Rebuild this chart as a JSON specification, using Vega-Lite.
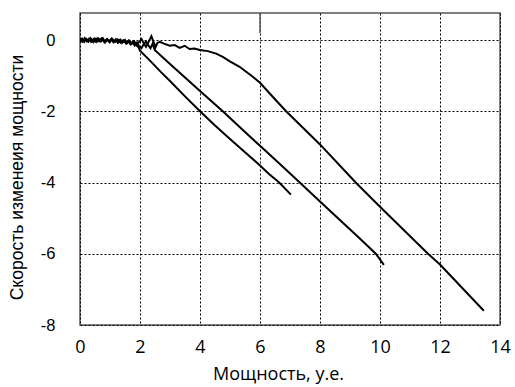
{
  "$schema": "https://vega.github.io/schema/vega-lite/v6.json",
  "width": 420,
  "height": 312,
  "autosize": {"type": "none"},
  "padding": {"left": 80, "top": 13, "right": 15, "bottom": 62},
  "background": "white",
  "config": {
    "view": {"stroke": "#555555", "strokeWidth": 1.5},
    "font": "Open Sans",
    "axis": {
      "labelColor": "black",
      "titleColor": "black",
      "titleFontWeight": "normal",
      "grid": true,
      "gridColor": "black",
      "gridDash": [2, 2],
      "gridWidth": 1,
      "gridOpacity": 1,
      "domain": false,
      "ticks": false
    }
  },
  "datasets": {
    "curves": [
      {"s": "A", "i": 1, "x": 0, "y": 0.03}, {"s": "A", "i": 2, "x": 0.08, "y": -0.04}, {"s": "A", "i": 3, "x": 0.15, "y": 0.05}, {"s": "A", "i": 4, "x": 0.22, "y": -0.03}, {"s": "A", "i": 5, "x": 0.3, "y": 0.04}, {"s": "A", "i": 6, "x": 0.37, "y": -0.05}, {"s": "A", "i": 7, "x": 0.45, "y": 0.03}, {"s": "A", "i": 8, "x": 0.52, "y": -0.04}, {"s": "A", "i": 9, "x": 0.6, "y": 0.05}, {"s": "A", "i": 10, "x": 0.67, "y": -0.03}, {"s": "A", "i": 11, "x": 0.75, "y": 0.04}, {"s": "A", "i": 12, "x": 0.82, "y": -0.06}, {"s": "A", "i": 13, "x": 0.9, "y": 0.03}, {"s": "A", "i": 14, "x": 0.97, "y": -0.04}, {"s": "A", "i": 15, "x": 1.05, "y": 0.04}, {"s": "A", "i": 16, "x": 1.12, "y": -0.05}, {"s": "A", "i": 17, "x": 1.2, "y": 0.02}, {"s": "A", "i": 18, "x": 1.27, "y": -0.07}, {"s": "A", "i": 19, "x": 1.35, "y": 0.01}, {"s": "A", "i": 20, "x": 1.42, "y": -0.06}, {"s": "A", "i": 21, "x": 1.5, "y": 0.0}, {"s": "A", "i": 22, "x": 1.57, "y": -0.09}, {"s": "A", "i": 23, "x": 1.65, "y": -0.02}, {"s": "A", "i": 24, "x": 1.72, "y": -0.11}, {"s": "A", "i": 25, "x": 1.8, "y": -0.04}, {"s": "A", "i": 26, "x": 1.87, "y": -0.14}, {"s": "A", "i": 27, "x": 1.95, "y": -0.2}, {"s": "A", "i": 28, "x": 2.0, "y": -0.3}, {"s": "A", "i": 29, "x": 2.3, "y": -0.55}, {"s": "A", "i": 30, "x": 2.7, "y": -0.9}, {"s": "A", "i": 31, "x": 3.0, "y": -1.15}, {"s": "A", "i": 32, "x": 3.5, "y": -1.58}, {"s": "A", "i": 33, "x": 4.0, "y": -2.0}, {"s": "A", "i": 34, "x": 4.5, "y": -2.4}, {"s": "A", "i": 35, "x": 5.0, "y": -2.78}, {"s": "A", "i": 36, "x": 5.5, "y": -3.15}, {"s": "A", "i": 37, "x": 6.0, "y": -3.52}, {"s": "A", "i": 38, "x": 6.3, "y": -3.76}, {"s": "A", "i": 39, "x": 6.64, "y": -4.0}, {"s": "A", "i": 40, "x": 7.03, "y": -4.34},
      {"s": "B", "i": 1, "x": 0, "y": -0.03}, {"s": "B", "i": 2, "x": 0.07, "y": 0.04}, {"s": "B", "i": 3, "x": 0.14, "y": -0.05}, {"s": "B", "i": 4, "x": 0.21, "y": 0.03}, {"s": "B", "i": 5, "x": 0.28, "y": -0.04}, {"s": "B", "i": 6, "x": 0.35, "y": 0.05}, {"s": "B", "i": 7, "x": 0.42, "y": -0.03}, {"s": "B", "i": 8, "x": 0.49, "y": 0.04}, {"s": "B", "i": 9, "x": 0.56, "y": -0.05}, {"s": "B", "i": 10, "x": 0.63, "y": 0.03}, {"s": "B", "i": 11, "x": 0.7, "y": -0.04}, {"s": "B", "i": 12, "x": 0.77, "y": 0.04}, {"s": "B", "i": 13, "x": 0.84, "y": -0.06}, {"s": "B", "i": 14, "x": 0.91, "y": 0.02}, {"s": "B", "i": 15, "x": 0.98, "y": -0.05}, {"s": "B", "i": 16, "x": 1.05, "y": 0.03}, {"s": "B", "i": 17, "x": 1.12, "y": -0.06}, {"s": "B", "i": 18, "x": 1.19, "y": 0.01}, {"s": "B", "i": 19, "x": 1.26, "y": -0.07}, {"s": "B", "i": 20, "x": 1.33, "y": 0.0}, {"s": "B", "i": 21, "x": 1.4, "y": -0.08}, {"s": "B", "i": 22, "x": 1.47, "y": -0.01}, {"s": "B", "i": 23, "x": 1.54, "y": -0.1}, {"s": "B", "i": 24, "x": 1.61, "y": -0.03}, {"s": "B", "i": 25, "x": 1.68, "y": -0.12}, {"s": "B", "i": 26, "x": 1.75, "y": -0.05}, {"s": "B", "i": 27, "x": 1.82, "y": -0.15}, {"s": "B", "i": 28, "x": 1.9, "y": -0.07}, {"s": "B", "i": 29, "x": 1.97, "y": -0.17}, {"s": "B", "i": 30, "x": 2.05, "y": -0.23}, {"s": "B", "i": 31, "x": 2.12, "y": -0.12}, {"s": "B", "i": 32, "x": 2.2, "y": -0.04}, {"s": "B", "i": 33, "x": 2.28, "y": -0.15}, {"s": "B", "i": 34, "x": 2.35, "y": -0.23}, {"s": "B", "i": 35, "x": 2.42, "y": -0.1}, {"s": "B", "i": 36, "x": 2.49, "y": -0.28}, {"s": "B", "i": 37, "x": 3.0, "y": -0.67}, {"s": "B", "i": 38, "x": 3.5, "y": -1.05}, {"s": "B", "i": 39, "x": 4.0, "y": -1.43}, {"s": "B", "i": 40, "x": 4.76, "y": -2.0}, {"s": "B", "i": 41, "x": 5.5, "y": -2.58}, {"s": "B", "i": 42, "x": 6.0, "y": -2.97}, {"s": "B", "i": 43, "x": 6.6, "y": -3.43}, {"s": "B", "i": 44, "x": 7.2, "y": -3.9}, {"s": "B", "i": 45, "x": 8.0, "y": -4.53}, {"s": "B", "i": 46, "x": 8.6, "y": -5.0}, {"s": "B", "i": 47, "x": 9.3, "y": -5.55}, {"s": "B", "i": 48, "x": 9.86, "y": -6.0}, {"s": "B", "i": 49, "x": 10.13, "y": -6.31},
      {"s": "C", "i": 1, "x": 0, "y": 0.0}, {"s": "C", "i": 2, "x": 0.09, "y": -0.05}, {"s": "C", "i": 3, "x": 0.18, "y": 0.04}, {"s": "C", "i": 4, "x": 0.27, "y": -0.04}, {"s": "C", "i": 5, "x": 0.36, "y": 0.03}, {"s": "C", "i": 6, "x": 0.45, "y": -0.06}, {"s": "C", "i": 7, "x": 0.54, "y": 0.04}, {"s": "C", "i": 8, "x": 0.63, "y": -0.03}, {"s": "C", "i": 9, "x": 0.72, "y": 0.05}, {"s": "C", "i": 10, "x": 0.81, "y": -0.05}, {"s": "C", "i": 11, "x": 0.9, "y": 0.02}, {"s": "C", "i": 12, "x": 0.99, "y": -0.06}, {"s": "C", "i": 13, "x": 1.08, "y": 0.03}, {"s": "C", "i": 14, "x": 1.17, "y": -0.05}, {"s": "C", "i": 15, "x": 1.26, "y": 0.02}, {"s": "C", "i": 16, "x": 1.35, "y": -0.07}, {"s": "C", "i": 17, "x": 1.44, "y": -0.01}, {"s": "C", "i": 18, "x": 1.53, "y": -0.08}, {"s": "C", "i": 19, "x": 1.62, "y": -0.01}, {"s": "C", "i": 20, "x": 1.71, "y": -0.1}, {"s": "C", "i": 21, "x": 1.8, "y": -0.03}, {"s": "C", "i": 22, "x": 1.89, "y": -0.12}, {"s": "C", "i": 23, "x": 1.98, "y": -0.05}, {"s": "C", "i": 24, "x": 2.05, "y": 0.03}, {"s": "C", "i": 25, "x": 2.12, "y": -0.08}, {"s": "C", "i": 26, "x": 2.2, "y": -0.19}, {"s": "C", "i": 27, "x": 2.28, "y": -0.06}, {"s": "C", "i": 28, "x": 2.38, "y": 0.11}, {"s": "C", "i": 29, "x": 2.45, "y": -0.05}, {"s": "C", "i": 30, "x": 2.52, "y": -0.2}, {"s": "C", "i": 31, "x": 2.58, "y": -0.08}, {"s": "C", "i": 32, "x": 2.66, "y": -0.05}, {"s": "C", "i": 33, "x": 2.8, "y": -0.1}, {"s": "C", "i": 34, "x": 2.99, "y": -0.16}, {"s": "C", "i": 35, "x": 3.16, "y": -0.14}, {"s": "C", "i": 36, "x": 3.32, "y": -0.22}, {"s": "C", "i": 37, "x": 3.49, "y": -0.16}, {"s": "C", "i": 38, "x": 3.65, "y": -0.25}, {"s": "C", "i": 39, "x": 3.82, "y": -0.24}, {"s": "C", "i": 40, "x": 3.99, "y": -0.28}, {"s": "C", "i": 41, "x": 4.26, "y": -0.31}, {"s": "C", "i": 42, "x": 4.54, "y": -0.38}, {"s": "C", "i": 43, "x": 4.76, "y": -0.47}, {"s": "C", "i": 44, "x": 4.98, "y": -0.59}, {"s": "C", "i": 45, "x": 5.32, "y": -0.75}, {"s": "C", "i": 46, "x": 5.76, "y": -1.03}, {"s": "C", "i": 47, "x": 6.0, "y": -1.2}, {"s": "C", "i": 48, "x": 6.53, "y": -1.69}, {"s": "C", "i": 49, "x": 6.87, "y": -2.0}, {"s": "C", "i": 50, "x": 8.0, "y": -2.93}, {"s": "C", "i": 51, "x": 9.19, "y": -4.0}, {"s": "C", "i": 52, "x": 10.0, "y": -4.68}, {"s": "C", "i": 53, "x": 11.6, "y": -6.0}, {"s": "C", "i": 54, "x": 12.0, "y": -6.3}, {"s": "C", "i": 55, "x": 13.46, "y": -7.6}
    ],
    "mark6": [{"x": 6, "y": 0.76, "y2": 0.2}]
  },
  "layer": [
    {
      "data": {"name": "curves"},
      "mark": {"type": "line", "color": "black", "strokeWidth": 2, "clip": true},
      "encoding": {
        "x": {
          "field": "x", "type": "quantitative",
          "scale": {"domain": [0, 14], "nice": false, "zero": false},
          "axis": {"values": [0, 2, 4, 6, 8, 10, 12, 14], "title": "Мощность, у.е.", "labelFont": "Open Sans", "labelFontSize": 18, "titleFont": "Open Sans", "titleFontSize": 18, "labelPadding": 13, "titlePadding": 9, "titleX": 198, "labelFlush": false, "labelExpr": "toString(datum.value)"}
        },
        "y": {
          "field": "y", "type": "quantitative",
          "scale": {"domain": [-8, 0.76], "nice": false, "zero": false},
          "axis": {"values": [-8, -6, -4, -2, 0], "title": "Скорость изменеия мощности", "labelFont": "Liberation Sans", "labelFontSize": 16.5, "titleFont": "Liberation Sans", "titleFontSize": 17.5, "labelPadding": 25, "titleX": -54, "titleY": 164, "labelFlush": false, "labelExpr": "toString(datum.value)"}
        },
        "detail": {"field": "s"},
        "order": {"field": "i", "type": "quantitative"}
      }
    },
    {
      "data": {"name": "mark6"},
      "mark": {"type": "rule", "color": "#555555", "strokeWidth": 1.5},
      "encoding": {
        "x": {"field": "x", "type": "quantitative"},
        "y": {"field": "y", "type": "quantitative"},
        "y2": {"field": "y2"}
      }
    }
  ]
}
